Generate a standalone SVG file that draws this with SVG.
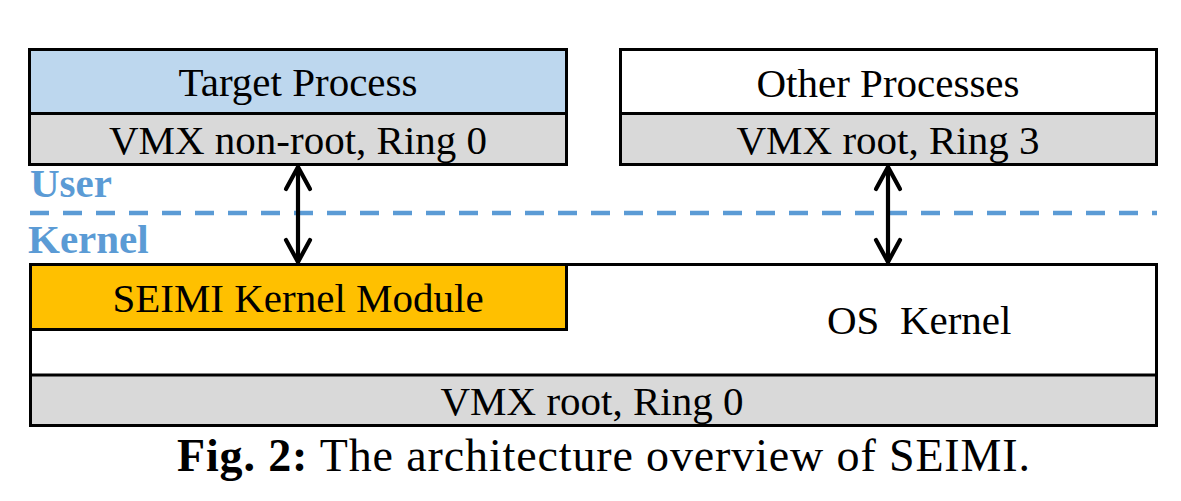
<svg xmlns="http://www.w3.org/2000/svg" width="1181" height="501" viewBox="0 0 1181 501">
<style>
.box{stroke:#000;stroke-width:3}
.t{font-family:"Liberation Serif","Times New Roman",serif;font-size:41px;fill:#000;text-anchor:middle}
.lbl{font-family:"Liberation Serif","Times New Roman",serif;font-size:41px;font-weight:bold;fill:#5B9BD5}
.arr{stroke:#000;stroke-width:4.2;fill:none;stroke-linecap:round;stroke-linejoin:round}
</style>
<rect width="1181" height="501" fill="#fff"/>
<g id="user-line">
<line x1="30" y1="213" x2="1157" y2="213" stroke="#5B9BD5" stroke-width="4.5" stroke-dasharray="19 14"/>
<text class="lbl" x="30" y="197">User</text>
<text class="lbl" x="28" y="253">Kernel</text>
</g>
<g id="target-process">
<rect class="box" x="29.5" y="49.5" width="537" height="64" fill="#BDD7EE"/>
<rect class="box" x="29.5" y="113.5" width="537" height="51" fill="#D9D9D9"/>
<text class="t" x="298" y="96">Target Process</text>
<text class="t" x="298" y="154">VMX non-root, Ring 0</text>
</g>
<g id="other-processes">
<rect class="box" x="620.5" y="49.5" width="536" height="64" fill="#fff"/>
<rect class="box" x="620.5" y="113.5" width="536" height="51" fill="#D9D9D9"/>
<text class="t" x="888" y="97">Other Processes</text>
<text class="t" x="888" y="154">VMX root, Ring 3</text>
</g>
<g id="os-kernel">
<rect class="box" x="30.5" y="264.5" width="1126" height="161" fill="#fff"/>
<rect class="box" x="30.5" y="375" width="1126" height="50.5" fill="#D9D9D9"/>
<text class="t" x="827" y="334" style="text-anchor:start" xml:space="preserve">OS  Kernel</text>
<text class="t" x="592" y="415">VMX root, Ring 0</text>
</g>
<g id="seimi-module">
<rect class="box" x="30.5" y="264.5" width="536" height="65" fill="#FFC000"/>
<text class="t" x="298" y="312">SEIMI Kernel Module</text>
</g>
<g id="connectors">
<line class="arr" x1="298" y1="167" x2="298" y2="262"/>
<polyline class="arr" points="286,189 298,167 310,189"/>
<polyline class="arr" points="286,240 298,262 310,240"/>
<line class="arr" x1="888" y1="167" x2="888" y2="262"/>
<polyline class="arr" points="876,189 888,167 900,189"/>
<polyline class="arr" points="876,240 888,262 900,240"/>
</g>
<text x="177" y="471" font-family="'Liberation Serif','Times New Roman',serif" font-size="46" textLength="853" lengthAdjust="spacing"><tspan font-weight="bold">Fig. 2:</tspan> The architecture overview of SEIMI.</text>
</svg>
